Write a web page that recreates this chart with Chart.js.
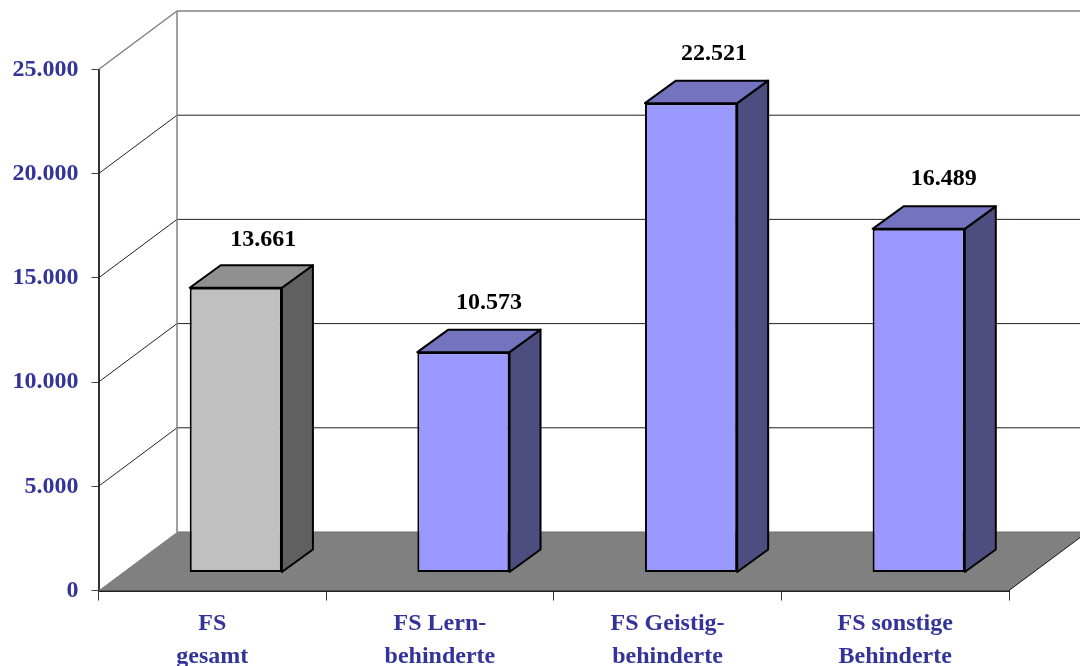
<!DOCTYPE html>
<html>
<head>
<meta charset="utf-8">
<style>html,body{margin:0;padding:0;background:#fff}canvas{display:block}</style>
<script src="https://cdn.jsdelivr.net/npm/chart.js@4"></script>
</head>
<body>
<canvas id="c" width="1080" height="666"></canvas>
<script>
const categories = [["FS","gesamt"],["FS Lern-","behinderte"],["FS Geistig-","behinderte"],["FS sonstige","Behinderte"]];
const values = [13661, 10573, 22521, 16489];
const frontColors = ["#C0C0C0","#9999FF","#9999FF","#9999FF"];
const topColors = ["#909090","#7373BF","#7373BF","#7373BF"];
const sideColors = ["#606060","#4D4D80","#4D4D80","#4D4D80"];

const fmt = v => String(v).replace(/\B(?=(\d{3})+$)/g, ".");
const WALL = {dx: 78.5, dy: -58.5};
const BAR = {dx: 23.5, dy: -18, ddx: 31, ddy: -22.5};
const LABEL_NUDGE_X = [27.5, 25.5, 23, 25];
const LABEL_NUDGE_Y = [-48, -49, -49, -50];
const FONT = 'bold 24px "Liberation Serif"';

function poly(ctx, pts, fill, stroke, lw) {
  ctx.beginPath();
  pts.forEach((p, i) => i ? ctx.lineTo(p[0], p[1]) : ctx.moveTo(p[0], p[1]));
  ctx.closePath();
  if (fill) { ctx.fillStyle = fill; ctx.fill(); }
  if (stroke) { ctx.strokeStyle = stroke; ctx.lineWidth = lw; ctx.stroke(); }
}
function line(ctx, x0, y0, x1, y1, color, lw) {
  ctx.beginPath(); ctx.moveTo(x0, y0); ctx.lineTo(x1, y1);
  ctx.strokeStyle = color; ctx.lineWidth = lw; ctx.stroke();
}

const box3d = {
  id: "box3d",
  beforeDatasetsDraw(chart) {
    const {ctx, chartArea: a, scales: {y}} = chart;
    ctx.save();
    const bx = a.left + WALL.dx;
    y.ticks.forEach(t => {
      const py = y.getPixelForValue(t.value);
      const top = t.value === y.max;
      if (t.value !== 0) {
        const c = top ? "#808080" : "#222222";
        const w = top ? 1.5 : 1;
        line(ctx, a.left, py, bx, py + WALL.dy, c, w);
        line(ctx, bx, py + WALL.dy, a.right + WALL.dx, py + WALL.dy, c, w);
      }
    });
    const y0 = y.getPixelForValue(0), yT = y.getPixelForValue(y.max);
    line(ctx, bx, yT + WALL.dy, bx, y0 + WALL.dy, "#808080", 1.5);
    poly(ctx, [[a.left, y0],[a.right, y0],[a.right + WALL.dx, y0 + WALL.dy],[bx, y0 + WALL.dy]], "#808080");
    line(ctx, bx, y0 + WALL.dy, a.right + WALL.dx, y0 + WALL.dy, "#6e6e6e", 1);
    line(ctx, a.right, y0, a.right + WALL.dx, y0 + WALL.dy, "#111111", 1);
    ctx.restore();
  },
  beforeDatasetDraw(chart, args) {
    const {ctx} = chart;
    const meta = chart.getDatasetMeta(args.index);
    meta.data.forEach((el, i) => {
      const p = el.getProps(["x","y","base","width"], true);
      const l = p.x - p.width / 2 + BAR.dx, r = p.x + p.width / 2 + BAR.dx;
      const t = p.y + BAR.dy, b = p.base + BAR.dy;
      ctx.save();
      ctx.lineJoin = "round";
      poly(ctx, [[r, t],[r + BAR.ddx, t + BAR.ddy],[r + BAR.ddx, b + BAR.ddy],[r, b]], sideColors[i], "#000", 2);
      poly(ctx, [[l, t],[l + BAR.ddx, t + BAR.ddy],[r + BAR.ddx, t + BAR.ddy],[r, t]], topColors[i], "#000", 2);
      ctx.restore();
    });
    ctx.save();
    ctx.translate(BAR.dx, BAR.dy);
  },
  afterDatasetDraw(chart, args) {
    const {ctx} = chart;
    ctx.restore();
    const meta = chart.getDatasetMeta(args.index);
    ctx.save();
    ctx.font = FONT; ctx.fillStyle = "#000";
    ctx.textAlign = "center"; ctx.textBaseline = "middle";
    meta.data.forEach((el, i) => {
      const p = el.getProps(["x","y"], true);
      ctx.fillText(fmt(values[i]), p.x + BAR.dx + LABEL_NUDGE_X[i], p.y + BAR.dy + LABEL_NUDGE_Y[i]);
    });
    ctx.restore();
  }
};

new Chart(document.getElementById("c"), {
  type: "bar",
  data: {
    labels: categories,
    datasets: [{
      data: values,
      backgroundColor: frontColors,
      borderColor: "#000",
      borderWidth: 2,
      borderSkipped: false,
      barPercentage: 0.405,
      categoryPercentage: 1,
      clip: false
    }]
  },
  plugins: [box3d],
  options: {
    responsive: false,
    animation: false,
    devicePixelRatio: 1,
    layout: {padding: {top: 69.5, right: 71, left: 0, bottom: 0}},
    plugins: {legend: {display: false}, title: {display: false}, tooltip: {enabled: false}},
    scales: {
      x: {
        grid: {offset: true, drawOnChartArea: false, drawTicks: true, tickLength: 10, tickColor: "#333", tickWidth: 1},
        border: {display: true, color: "#222", width: 2},
        ticks: {color: "#333399", font: {family: "Liberation Serif", weight: "bold", size: 24, lineHeight: 1.375}, padding: 7, maxRotation: 0, autoSkip: false},
        afterFit(s) { s.height = 75.5; }
      },
      y: {
        min: 0, max: 25000,
        grid: {drawOnChartArea: false, drawTicks: true, tickLength: 7, tickColor: "#444", tickWidth: 1},
        border: {display: true, color: "#333", width: 2},
        ticks: {stepSize: 5000, color: "#333399", font: {family: "Liberation Serif", weight: "bold", size: 24}, padding: 13, callback: v => fmt(v)},
        afterFit(s) { s.width = 98.5; }
      }
    }
  }
});
</script>
</body>
</html>
